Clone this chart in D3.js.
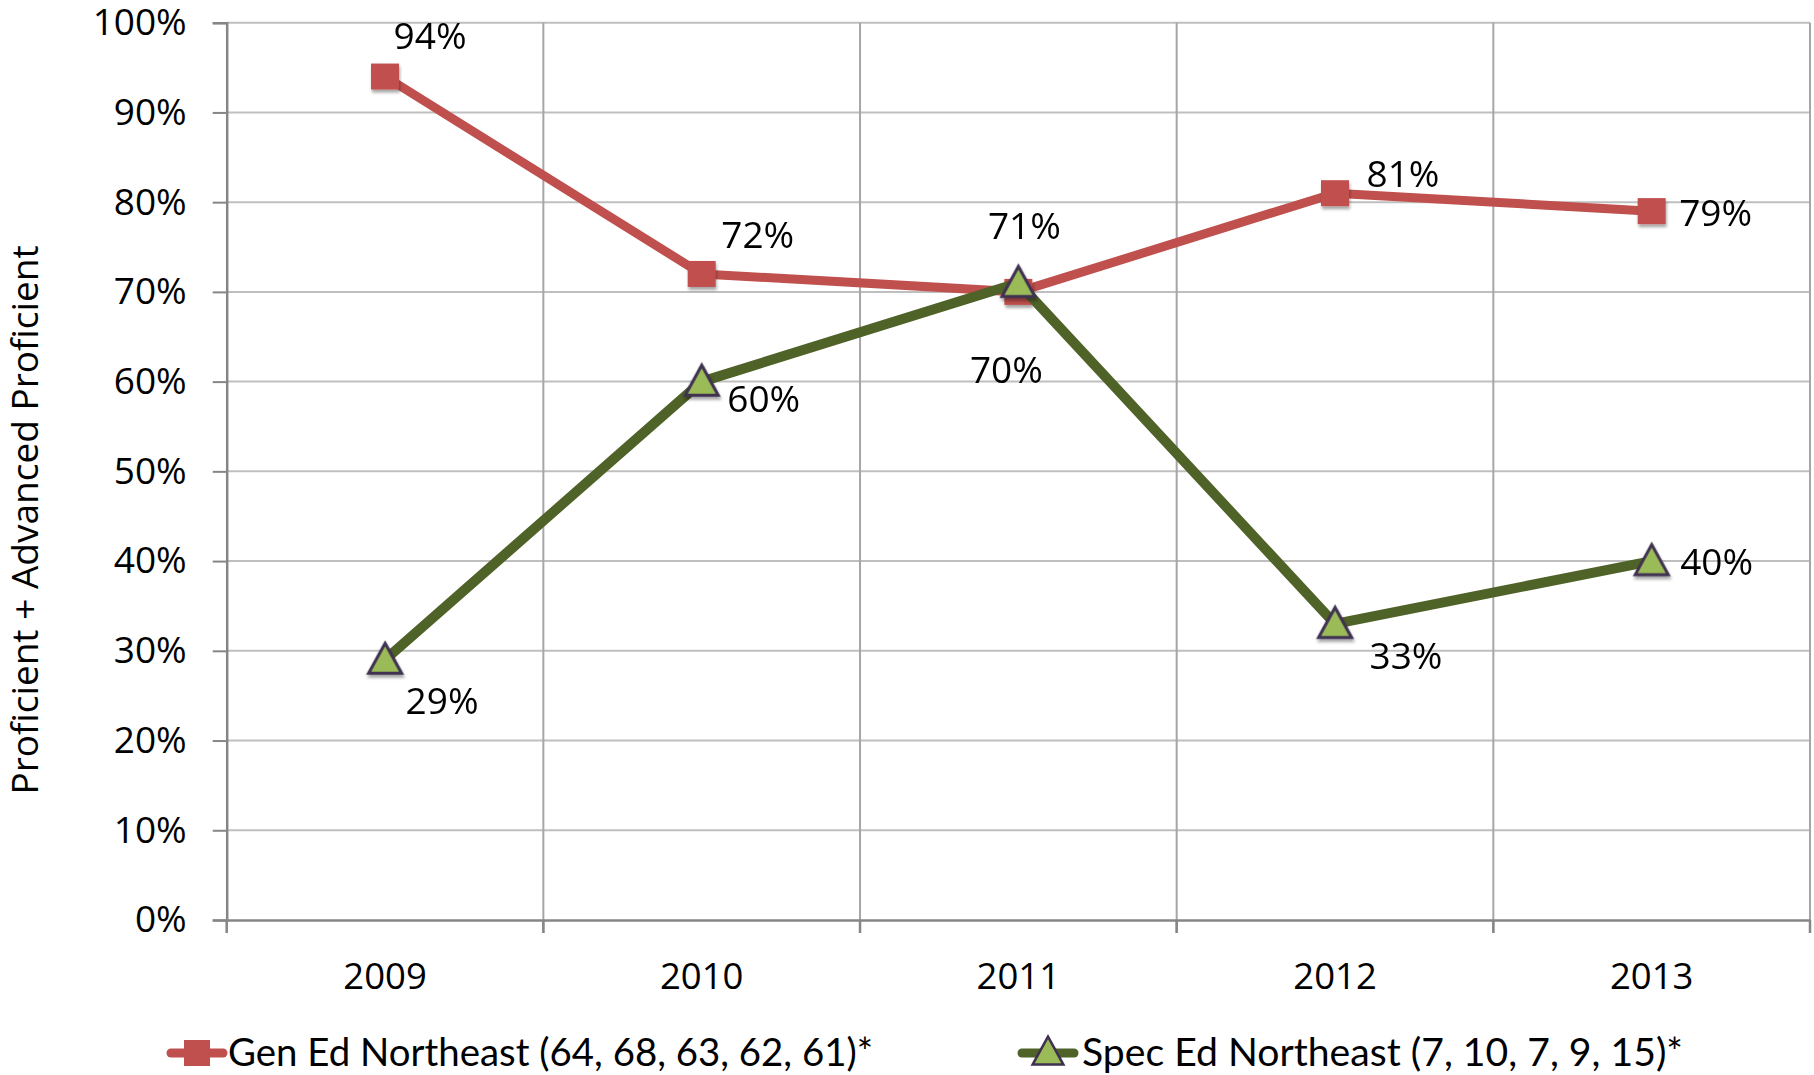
<!DOCTYPE html>
<html>
<head>
<meta charset="utf-8">
<script src="https://cdn.jsdelivr.net/npm/d3@7"></script>
<style>
  html, body { margin: 0; padding: 0; background: #fff; overflow: hidden; }
  svg { display: block; }
  text { font-family: "Open Sans", "Liberation Sans", sans-serif; fill: #000; }
  .legend text { font-family: Lato, "Open Sans", sans-serif; }
</style>
</head>
<body>
<svg id="chart"></svg>
<script>
// ---- data ----
const years = ["2009", "2010", "2011", "2012", "2013"];
const genEd = [94, 72, 70, 81, 79];
const specEd = [29, 60, 71, 33, 40];
const yTicks = [0, 10, 20, 30, 40, 50, 60, 70, 80, 90, 100];
const seriesNames = ["Gen Ed Northeast (64, 68, 63, 62, 61)*", "Spec Ed Northeast (7, 10, 7, 9, 15)*"];
const yTitle = "Proficient + Advanced Proficient";

// label offsets from each marker (dx, dy of text centre) - hand placed like the original
const genLabelOffset = [[45, -41], [56, -39], [-12, 78], [68, -19], [64, 2]];
const specLabelOffset = [[57, 41], [62, 17], [6, -57], [71, 32], [65, 1]];

const width = 1814, height = 1075;
const margin = { top: 22.7, right: 4, bottom: 155, left: 226.7 };
const innerWidth = width - margin.left - margin.right;
const innerHeight = height - margin.top - margin.bottom;

const red = "#C0504D", green = "#4F6228", triFill = "#9BBB59", triStroke = "#3F3151";

const svg = d3.select("#chart").attr("width", width).attr("height", height);

const defs = svg.append("defs");
const shadow = defs.append("filter").attr("id", "shadow")
    .attr("x", "-50%").attr("y", "-50%").attr("width", "200%").attr("height", "200%");
shadow.append("feDropShadow")
    .attr("dx", 1).attr("dy", 3).attr("stdDeviation", 1.5)
    .attr("flood-color", "#000").attr("flood-opacity", 0.35);

const innerChart = svg.append("g")
    .attr("transform", `translate(${margin.left}, ${margin.top})`);

const xScale = d3.scaleBand().domain(years).range([0, innerWidth]);
const yScale = d3.scaleLinear().domain([0, 100]).range([innerHeight, 0]);

// horizontal gridlines
innerChart.append("g")
  .selectAll("line")
  .data(yTicks.filter(d => d > 0))
  .join("line")
    .attr("x1", 0).attr("x2", innerWidth)
    .attr("y1", d => yScale(d)).attr("y2", d => yScale(d))
    .attr("stroke", "#BFBFBF").attr("stroke-width", 2);

// vertical gridlines at category boundaries
const boundaries = years.map(y => xScale(y)).concat([innerWidth]).slice(1);
innerChart.append("g")
  .selectAll("line")
  .data(boundaries)
  .join("line")
    .attr("x1", d => d).attr("x2", d => d)
    .attr("y1", 0).attr("y2", innerHeight + 13)
    .attr("stroke", "#A6A6A6").attr("stroke-width", 2);

// y axis
const yAxis = d3.axisLeft(yScale)
    .tickValues(yTicks)
    .tickSize(14)
    .tickPadding(26)
    .tickFormat(d => d + "%");
const yAxisG = innerChart.append("g").call(yAxis);
yAxisG.select(".domain").attr("stroke", "#868686").attr("stroke-width", 2.5);
yAxisG.selectAll(".tick line").attr("stroke", "#868686").attr("stroke-width", 2);
yAxisG.selectAll(".tick text")
    .style("font-size", "37px")
    .style("font-family", "'Open Sans', sans-serif")
    .attr("fill", "#000");

// x axis
const xAxisG = innerChart.append("g")
    .attr("transform", `translate(0, ${innerHeight})`)
    .call(d3.axisBottom(xScale).tickSize(0).tickPadding(43));
xAxisG.select(".domain").attr("stroke", "#868686").attr("stroke-width", 2.5);
xAxisG.selectAll(".tick text")
    .style("font-size", "36.5px")
    .style("font-family", "'Open Sans', sans-serif")
    .attr("fill", "#000");
// x tick marks (at boundaries, including the axis start)
innerChart.append("g")
  .selectAll("line")
  .data([0].concat(boundaries))
  .join("line")
    .attr("x1", d => d).attr("x2", d => d)
    .attr("y1", innerHeight).attr("y2", innerHeight + 13)
    .attr("stroke", "#868686").attr("stroke-width", 2.5);

// y title
svg.append("text")
    .attr("transform", `translate(38, 520) rotate(-90)`)
    .attr("text-anchor", "middle")
    .style("font-size", "37px")
    .text(yTitle);

const cx = i => xScale(years[i]) + xScale.bandwidth() / 2;
const lineGen = d3.line().x((d, i) => cx(i)).y(d => yScale(d));

const triangle = s => `M0,${-s * 0.55} L${s * 0.55},${s * 0.45} L${-s * 0.55},${s * 0.45} Z`;

// gen ed series
innerChart.append("path")
    .datum(genEd)
    .attr("d", lineGen)
    .attr("fill", "none").attr("stroke", red).attr("stroke-width", 9)
    .attr("stroke-linejoin", "round");
innerChart.append("g").attr("filter", "url(#shadow)")
  .selectAll("rect")
  .data(genEd)
  .join("rect")
    .attr("x", (d, i) => cx(i) - 14).attr("y", d => yScale(d) - 13)
    .attr("width", 28).attr("height", 26)
    .attr("fill", red);

// spec ed series
innerChart.append("path")
    .datum(specEd)
    .attr("d", lineGen)
    .attr("fill", "none").attr("stroke", green).attr("stroke-width", 10)
    .attr("stroke-linejoin", "round");
innerChart.append("g").attr("filter", "url(#shadow)")
  .selectAll("path")
  .data(specEd)
  .join("path")
    .attr("d", triangle(30))
    .attr("transform", (d, i) => `translate(${cx(i)}, ${yScale(d)})`)
    .attr("fill", triFill).attr("stroke", triStroke).attr("stroke-width", 3)
    .attr("stroke-linejoin", "miter");

// data labels
const addLabels = (values, offsets) => {
  innerChart.append("g")
    .selectAll("text")
    .data(values)
    .join("text")
      .attr("x", (d, i) => cx(i) + offsets[i][0])
      .attr("y", (d, i) => yScale(d) + offsets[i][1])
      .attr("dy", "0.36em")
      .attr("text-anchor", "middle")
      .style("font-size", "37px")
      .text(d => d + "%");
};
addLabels(genEd, genLabelOffset);
addLabels(specEd, specLabelOffset);

// legend
const legend = svg.append("g").attr("class", "legend");
const legendItems = [
  { name: seriesNames[0], x: 167, color: red, marker: "square", textWidth: 645 },
  { name: seriesNames[1], x: 1018, color: green, marker: "triangle", textWidth: 601 }
];
const legendY = 1053;
legendItems.forEach(item => {
  const g = legend.append("g").attr("transform", `translate(${item.x}, ${legendY})`);
  g.append("line")
    .attr("x1", 4).attr("x2", 56)
    .attr("stroke", item.color).attr("stroke-width", 9).attr("stroke-linecap", "round");
  if (item.marker === "square") {
    g.append("rect").attr("x", 17).attr("y", -13).attr("width", 26).attr("height", 26).attr("fill", red);
  } else {
    g.append("path").attr("d", triangle(28)).attr("transform", "translate(30, -1)")
      .attr("fill", triFill).attr("stroke", triStroke).attr("stroke-width", 2.5);
  }
  g.append("text")
    .attr("x", item.marker === "square" ? 61 : 64).attr("y", 13)
    .attr("textLength", item.textWidth)
    .attr("lengthAdjust", "spacingAndGlyphs")
    .style("font-size", "39px")
    .text(item.name);
});
</script>
</body>
</html>
